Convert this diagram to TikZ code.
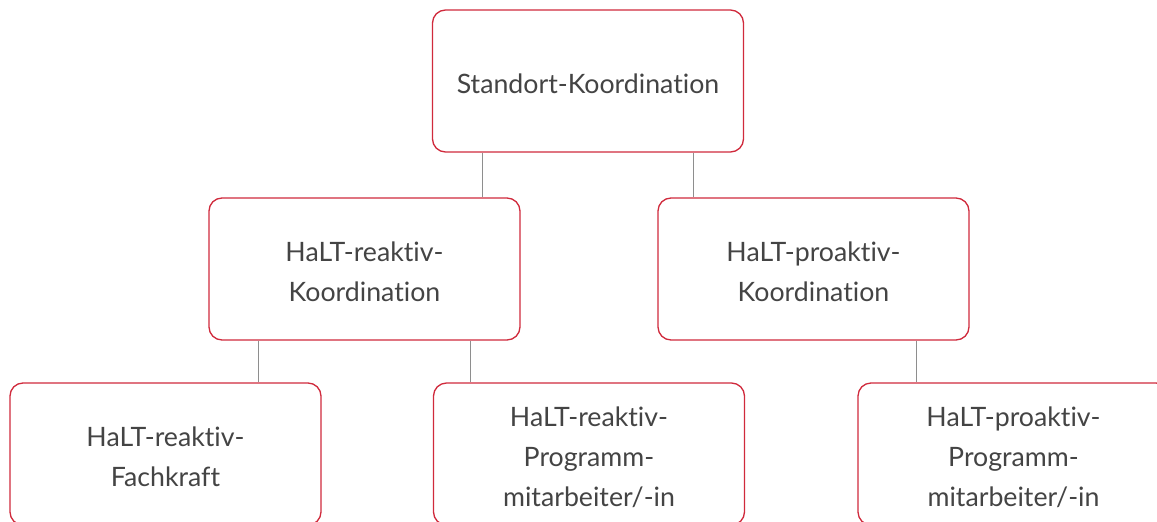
\documentclass[tikz,border=0pt]{standalone}
\usepackage{fontspec}
\setmainfont[Ligatures=NoCommon]{Lato}
\definecolor{boxred}{HTML}{D02A3C}
\definecolor{txtgray}{HTML}{444444}
\definecolor{linegray}{HTML}{8E8E8E}
\begin{document}
\begin{tikzpicture}[x=1pt,y=-1pt,
  orgbox/.style={draw=boxred, line width=1.3pt, rounded corners=13pt, fill=white,
    minimum width=311pt, minimum height=142pt, inner sep=0pt,
    label={[boxtext]center:#1}},
  boxtext/.style={align=center, inner sep=0pt, yshift=-3pt,
    text=txtgray, font=\fontsize{26.7}{40}\selectfont},
  link/.style={draw=linegray, line width=1.2pt}]
\useasboundingbox[fill=white] (0,0) rectangle (1157,522);
\node[orgbox={Standort-Koordination}] (top) at (588,81) {};
\node[orgbox={HaLT-reaktiv-\\Koordination}] (midL) at (364.5,269) {};
\node[orgbox={HaLT-proaktiv-\\Koordination}] (midR) at (813.5,269) {};
\node[orgbox={HaLT-reaktiv-\\Fachkraft}] (botL) at (165.5,454) {};
\node[orgbox={HaLT-reaktiv-\\Programm-\\mitarbeiter/-in}] (botM) at (589,454) {};
\node[orgbox={HaLT-proaktiv-\\Programm-\\mitarbeiter/-in}] (botR) at (1013.5,454) {};
\draw[link] ([xshift=51pt]top.south west) -- ([xshift=51pt]top.south west |- midL.north);
\draw[link] ([xshift=-51pt]top.south east) -- ([xshift=-51pt]top.south east |- midR.north);
\draw[link] ([xshift=50pt]midL.south west) -- ([xshift=50pt]midL.south west |- botL.north);
\draw[link] ([xshift=-50pt]midL.south east) -- ([xshift=-50pt]midL.south east |- botM.north);
\draw[link] ([xshift=-53pt]midR.south east) -- ([xshift=-53pt]midR.south east |- botR.north);
\end{tikzpicture}
\end{document}
